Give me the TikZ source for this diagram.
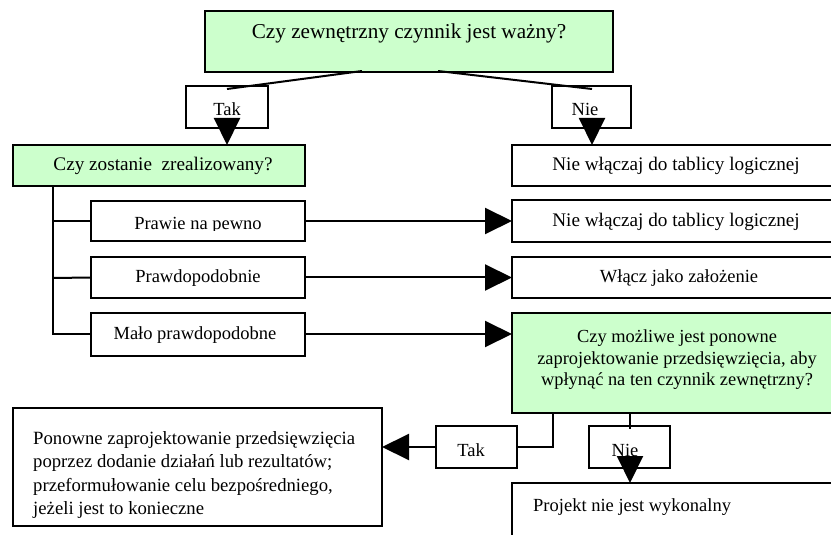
\documentclass[tikz,border=0pt]{standalone}
\usepackage{fontspec}
\setmainfont{Liberation Serif}
\usetikzlibrary{arrows.meta,calc}
\definecolor{lgreen}{HTML}{CCFFCC}
\tikzset{
  box/.style={draw=black, line width=1.2bp, fill=white, inner sep=0pt, outer sep=0pt},
  gbox/.style={box, fill=lgreen},
  txt/.style={inner sep=0pt, font=\fontsize{18.5bp}{22bp}\selectfont},
  txtb/.style={inner sep=0pt, font=\fontsize{19.2bp}{22bp}\selectfont},
  conn/.style={line width=2bp, line cap=butt},
  arr/.style={conn, -{Triangle[length=27bp, width=26bp]}},
}
\newcommand{\bx}[6]{% style, name, x1, y1, x2, y2
  \node[#1, minimum width={(#5-#3)*1bp}, minimum height={(#6-#4)*1bp}] (#2) at ({(#3+#5)/2},{(#4+#6)/2}) {};}
\begin{document}
\begin{tikzpicture}[x=1bp, y=-1bp]
\useasboundingbox (0,0) rectangle (831,535);
\clip (0,0) rectangle (831,535);
% boxes
\bx{gbox}{top}{205}{11}{613}{72}
\bx{box}{takA}{186}{86}{268}{128}
\bx{box}{nieA}{552}{86}{631}{128}
\bx{gbox}{real}{13}{145}{305}{186}
\bx{box}{nie1}{512}{145}{850}{186}
\bx{box}{prawie}{91}{201}{305}{241}
\bx{box}{nie2}{512}{200}{850}{242}
\bx{box}{prawd}{91}{257}{305}{298}
\bx{box}{wlacz}{512}{257}{850}{298}
\bx{box}{malo}{91}{313}{305}{356}
\bx{gbox}{czy2}{512}{313}{850}{413}
\bx{box}{ponowne}{13}{408}{382}{526}
\bx{box}{takB}{436}{426}{517}{468}
\bx{box}{nieB}{589}{426}{670}{468}
\bx{box}{proj}{512}{483}{850}{580}
% texts
\node[txt, font=\fontsize{21.2bp}{24bp}\selectfont] (ttop) at (409,33) {Czy zewnętrzny czynnik jest ważny?};
\node[txt] (ttakA) at (227,109) {Tak};
\node[txt] (tnieA) at (585,109) {Nie};
\node[txtb] (treal) at (163,166) {Czy zostanie\ \ zrealizowany?};
\node[txtb] (tnie1) at (676,166) {Nie włączaj do tablicy logicznej};
\begin{scope}
\clip (91,201) rectangle (305,231);
\node[txt, anchor=base] (tprawie) at (198,230) {Prawie na pewno};
\end{scope}
\node[txtb] (tnie2) at (676,222) {Nie włączaj do tablicy logicznej};
\node[txt] (tprawd) at (198,278) {Prawdopodobnie};
\node[txt] (twlacz) at (679,278) {Włącz jako założenie};
\node[txt] (tmalo) at (195,335) {Mało prawdopodobne};
\node[txt, align=center, font=\fontsize{18.4bp}{21.5bp}\selectfont] (tczy2) at (677,360)
  {Czy możliwe jest ponowne\\zaprojektowanie przedsięwzięcia, aby\\wpłynąć na ten czynnik zewnętrzny?};
\node[txt, align=left, anchor=north west, font=\fontsize{18.7bp}{23.5bp}\selectfont] (tpon) at (33,431)
  {Ponowne zaprojektowanie przedsięwzięcia\\poprzez dodanie działań lub rezultatów;\\przeformułowanie celu bezpośredniego,\\jeżeli jest to konieczne};
\node[txt] (ttakB) at (471,450) {Tak};
\node[txt] (tnieB) at (625,450) {Nie};
\node[txt, anchor=west] (tproj) at (533,507) {Projekt nie jest wykonalny};
% connectors
\coordinate (t1) at (362,71);
\coordinate (t2) at (227,89);
\coordinate (t3) at (438,71);
\coordinate (t4) at (592,89);
\draw[conn] (t1) -- (t2);
\draw[conn] (t3) -- (t4);
\coordinate (a1) at (227,118);
\coordinate (a2) at (592,118);
\draw[arr] (a1) -- (a1 |- real.north);
\draw[arr] (a2) -- (a2 |- nie1.north);
\coordinate (tr0) at (53,186);
\coordinate (tr1) at (53,335);
\draw[conn] (tr0) -- (tr1);
\draw[conn] (53,221) -- (prawie.west);
\draw[conn] (53,278) -- (prawd.west);
\draw[conn] (53,334) -- (malo.west |- 0,334);
\draw[arr] (prawie.east) -- (nie2.west);
\draw[arr] (prawd.east) -- (wlacz.west);
\draw[arr] (305,334) -- (czy2.west |- 0,334);
\coordinate (c1) at (553,413);
\draw[conn] (c1) -- (553,447) -- (takB.east);
\draw[arr] (takB.west) -- (takB.west -| ponowne.east);
\coordinate (c2) at (630,413);
\draw[conn] (c2) -- (630,429);
\coordinate (c3) at (630,456);
\draw[arr] (c3) -- (c3 |- proj.north);
\end{tikzpicture}
\end{document}
